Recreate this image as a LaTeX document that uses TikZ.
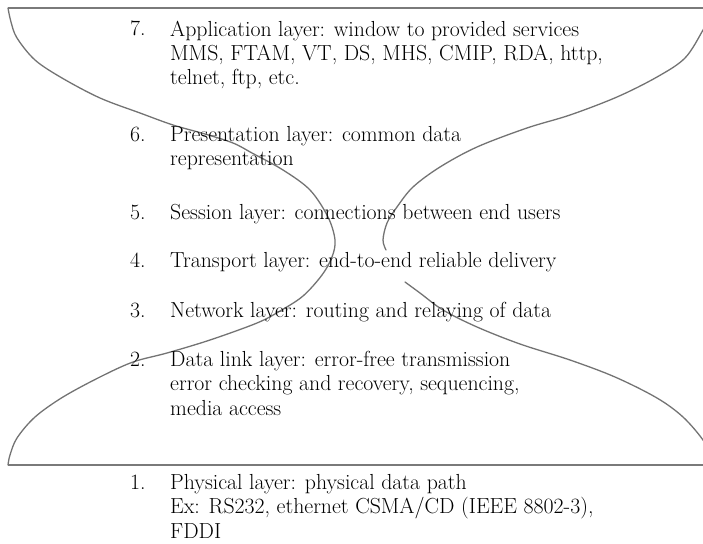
\documentclass[tikz,border=0pt]{standalone}
\begin{document}
\begin{tikzpicture}[x=1pt,y=-1pt,
  rule/.style={draw=black!52, line width=2pt},
  curve/.style={draw=black!55, line width=1.3pt, line join=round, line cap=round},
  num/.style={anchor=base west, inner sep=0pt, font=\fontsize{21.8}{24.3}\selectfont, text=black},
  body/.style={anchor=base west, inner sep=0pt, align=left, font=\fontsize{21.8}{24.3}\selectfont, text=black}]
\useasboundingbox (0,0) rectangle (703,543);
\begin{scope}
\clip (0,0) rectangle (703,543);
\draw[rule] (8,8) -- (710,8);
\draw[rule] (8,465) -- (710,465);
\draw[curve] plot[smooth, tension=0.55] coordinates {(8,8) (11,22) (17,38) (35,60) (62,78) (100,98) (140,113) (173,125) (205,134) (233,143) (252,153) (283,170) (310,190) (328,217) (335,240) (332,257) (322,275) (303,296) (280,311) (257,323) (210,340) (167,353) (133,362) (100,377) (63,397) (35,417) (17,438) (10,455) (8,465)};
\draw[curve] plot[smooth, tension=0.55] coordinates {(712,12) (703,30) (685,58) (657,77) (617,97) (570,115) (527,128) (477,147) (440,167) (413,187) (397,207) (387,223) (383,240) (386,250)};
\draw[curve] plot[smooth, tension=0.55] coordinates {(405,282) (420,293) (443,310) (477,327) (520,344) (570,360) (615,377) (657,398) (683,417) (703,440) (710,455)};
\end{scope}
\node[num] (n7) at (130,36) {7.};
\node[body] (t7) at (170,84.6) {Application layer: window to provided services\\MMS, FTAM, VT, DS, MHS, CMIP, RDA, http,\\telnet, ftp, etc.};
\node[num] (n6) at (130,141) {6.};
\node[body] (t6) at (170,165.3) {Presentation layer: common data\\representation};
\node[num] (n5) at (130,219.5) {5.};
\node[body] (t5) at (170,219.5) {Session layer: connections between end users};
\node[num] (n4) at (130,267.5) {4.};
\node[body] (t4) at (170,267.5) {Transport layer: end-to-end reliable delivery};
\node[num] (n3) at (130,317.5) {3.};
\node[body] (t3) at (170,317.5) {Network layer: routing and relaying of data};
\node[num] (n2) at (130,366.5) {2.};
\node[body] (t2) at (170,415.1) {Data link layer: error-free transmission\\error checking and recovery, sequencing,\\media access};
\node[num] (n1) at (130,489.5) {1.};
\node[body] (t1) at (170,538.1) {Physical layer: physical data path\\Ex: RS232, ethernet CSMA/CD (IEEE 8802-3),\\FDDI};
\end{tikzpicture}
\end{document}
